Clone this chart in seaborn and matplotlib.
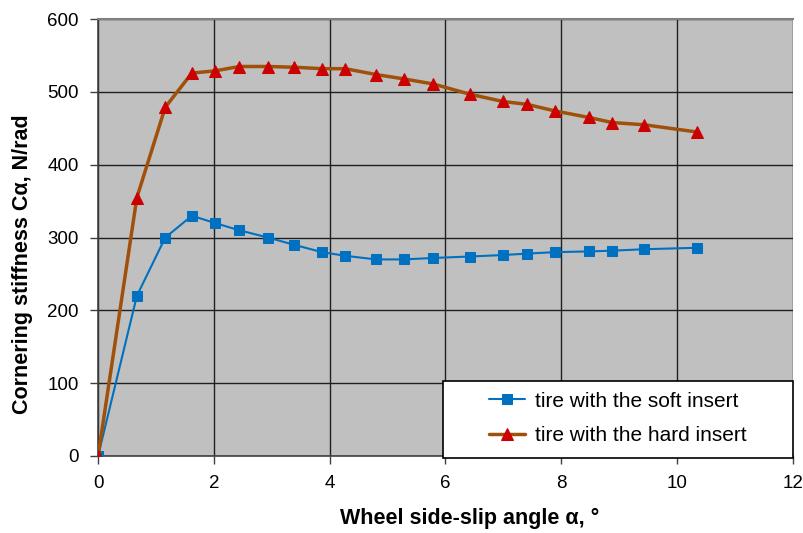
import pandas as pd
import matplotlib
matplotlib.use("Agg")
import matplotlib.pyplot as plt
from matplotlib.patches import Rectangle
import seaborn as sns

# data
slip_angle = [0, 0.67, 1.16, 1.62, 2.02, 2.44, 2.94, 3.39, 3.87, 4.27, 4.80,
              5.28, 5.79, 6.42, 6.99, 7.41, 7.89, 8.48, 8.88, 9.43, 10.35]
soft_insert = [0, 220, 300, 330, 320, 310, 300, 290, 280, 275, 270,
               270, 272, 274, 276, 278, 280, 281, 282, 284, 286]
hard_insert = [0, 355, 479, 526, 529, 535, 535, 534, 532, 532, 524,
               518, 511, 497, 487, 483, 474, 465, 458, 455, 445]

x_ticks = [0, 2, 4, 6, 8, 10, 12]
y_ticks = [0, 100, 200, 300, 400, 500, 600]

df = pd.DataFrame({"alpha": slip_angle, "soft": soft_insert, "hard": hard_insert})

sns.set_style("ticks", {"axes.facecolor": "#C0C0C0"})
plt.rcParams["font.family"] = ["Liberation Sans", "DejaVu Sans"]
plt.rcParams["text.color"] = "black"

fig = plt.figure(figsize=(8.04, 5.33), dpi=100)
ax = fig.add_axes([0.122, 0.1445, 0.864, 0.8195])

sns.lineplot(data=df, x="alpha", y="soft", ax=ax, color="#0070C0", linewidth=1.5,
             marker="s", markersize=7, markeredgecolor="#0070C0",
             label="tire with the soft insert", zorder=3)
sns.lineplot(data=df, x="alpha", y="hard", ax=ax, color="#A0500A", linewidth=2.5,
             marker="^", markersize=8, markerfacecolor="#CC0000",
             markeredgecolor="#CC0000", label="tire with the hard insert", zorder=4)

ax.set_xlim(0, 12)
ax.set_ylim(0, 600)
ax.set_xticks(x_ticks)
ax.set_yticks(y_ticks)
ax.tick_params(labelsize=13.5, labelcolor="black", color="#404040",
               direction="out", length=6, width=1, pad=8)
ax.grid(True, color="#202020", linewidth=1)
ax.set_axisbelow(True)

for side in ["left", "bottom"]:
    ax.spines[side].set_color("#404040")
    ax.spines[side].set_linewidth(1.2)
ax.spines["top"].set_visible(True)
ax.spines["top"].set_color("#808080")
ax.spines["top"].set_linewidth(1.5)
ax.spines["right"].set_visible(False)

ax.set_xlabel("Wheel side-slip angle α, °", fontsize=15.5, fontweight="bold",
              color="black")
ax.set_ylabel("Cornering stiffness Cα, N/rad", fontsize=15.5, fontweight="bold",
              color="black")
# labels are a bit off-centre in the reference
ax.xaxis.set_label_coords(0.535, -0.118)
ax.yaxis.set_label_coords(-0.093, 0.44)

# legend box sits in the lower right corner of the plot
box_x, box_w, box_h = 0.496, 0.504, 0.172
ax.add_patch(Rectangle((box_x, -0.004), box_w, box_h + 0.004, transform=ax.transAxes,
                       facecolor="white", edgecolor="black", linewidth=1.2,
                       zorder=9, clip_on=False))
leg = ax.legend(loc="center", bbox_to_anchor=(box_x, 0.0, box_w, box_h),
                bbox_transform=ax.transAxes, frameon=False, fontsize=15,
                labelspacing=0.75, handlelength=1.75, handletextpad=0.45,
                borderpad=0.3)
leg.set_zorder(10)

fig.savefig("out.png", dpi=100)
